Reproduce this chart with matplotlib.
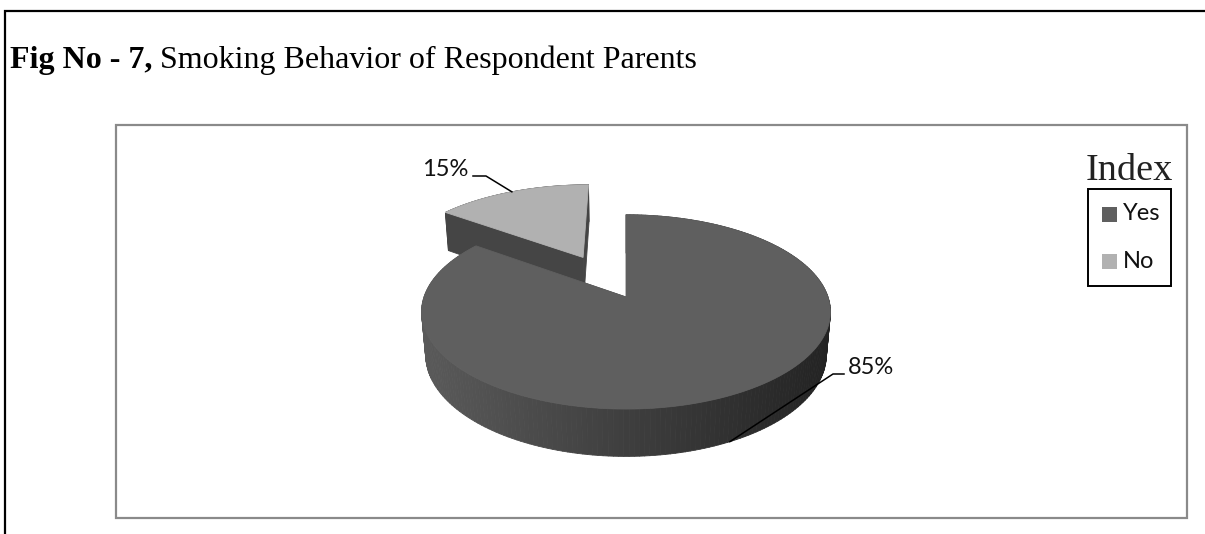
import numpy as np
import matplotlib
matplotlib.use('Agg')
import matplotlib.pyplot as plt
from matplotlib.patches import Polygon, Rectangle
from matplotlib.collections import PolyCollection

# ---------------- data ----------------
categories = ['Yes', 'No']
values = [85, 15]
pct_labels = ['85%', '15%']
top_colors = ['#5f5f5f', '#b1b1b1']
explode = [0.0, 0.5]
title_bold = 'Fig No - 7,'
title_rest = 'Smoking Behavior of Respondent Parents'
legend_title = 'Index'

# ---------------- canvas ----------------
W, H = 1205, 534
fig = plt.figure(figsize=(W / 100, H / 100), dpi=100)
ax = fig.add_axes([0, 0, 1, 1])
ax.set_xlim(0, W)
ax.set_ylim(H, 0)
ax.axis('off')

SERIF = 'Liberation Serif'
SANS = 'Lato'

# outer frame (top + left) and inner chart frame
ax.plot([5, 5, W], [H, 11, 11], color='black', lw=1.6, solid_joinstyle='miter',
        solid_capstyle='butt')
ax.add_patch(Rectangle((116, 125), 1071, 393, fill=False, ec='#8a8a8a', lw=1.6))

# title
TITLE_Y = 68
t1 = ax.text(10, TITLE_Y, title_bold, fontfamily=SERIF, fontweight='bold', fontsize=23,
             va='baseline', ha='left')
fig.canvas.draw()
bb = t1.get_window_extent(fig.canvas.get_renderer())
ax.text(10 + bb.width + 8, TITLE_Y, title_rest, fontfamily=SERIF, fontsize=23,
        va='baseline', ha='left')

# ---------------- 3D pie geometry ----------------
CX, CY = 626, 297
R = 202
TILT = np.radians(28)
DIST = 1162
DEPTH = 49


def proj(x, y, z):
    v = y * np.sin(TILT) + z * np.cos(TILT)
    w = y * np.cos(TILT) - z * np.sin(TILT)
    s = DIST / (DIST + w)
    return CX + x * s, CY - v * s, w


def side_gray(sx):
    f = np.clip((sx - (CX - R)) / (2 * R), 0, 1)
    g = 0x5a - (0x5a - 0x23) * f
    return (g / 255, g / 255, g / 255)


total = float(sum(values))
slices = []
cum = 0.0
for i, v in enumerate(values):
    a0 = 90 - 360 * cum / total
    a1 = 90 - 360 * (cum + v) / total
    cum += v
    mid = np.radians((a0 + a1) / 2)
    ox = explode[i] * R * np.cos(mid)
    oy = explode[i] * R * np.sin(mid)
    depth_key = proj(ox + 0.5 * R * np.cos(mid), oy + 0.5 * R * np.sin(mid), 0)[2]
    slices.append(dict(i=i, a0=a0, a1=a1, mid=mid, ox=ox, oy=oy, key=depth_key))

# draw far slices first
for sl in sorted(slices, key=lambda d: -d['key']):
    i, a0, a1, ox, oy = sl['i'], sl['a0'], sl['a1'], sl['ox'], sl['oy']
    faces = []
    angs = np.radians(np.linspace(a1, a0, 240))
    # outer side
    for k in range(len(angs) - 1):
        p = []
        for (ang, z) in [(angs[k], 0), (angs[k + 1], 0), (angs[k + 1], -DEPTH), (angs[k], -DEPTH)]:
            sx, sy, _ = proj(ox + R * np.cos(ang), oy + R * np.sin(ang), z)
            p.append((sx, sy))
        am = 0.5 * (angs[k] + angs[k + 1])
        mx, my, mw = proj(ox + R * np.cos(am), oy + R * np.sin(am), -DEPTH / 2)
        faces.append((mw, p, side_gray(mx)))
    # radial cut faces
    for ang in np.radians([a0, a1]):
        p = []
        for (r, z) in [(0, 0), (R, 0), (R, -DEPTH), (0, -DEPTH)]:
            sx, sy, _ = proj(ox + r * np.cos(ang), oy + r * np.sin(ang), z)
            p.append((sx, sy))
        mx, my, mw = proj(ox + 0.5 * R * np.cos(ang), oy + 0.5 * R * np.sin(ang), -DEPTH / 2)
        faces.append((mw, p, '#454545'))
    faces.sort(key=lambda f: -f[0])
    pc = PolyCollection([f[1] for f in faces], facecolors=[f[2] for f in faces],
                        edgecolors=[f[2] for f in faces], linewidths=0.6)
    ax.add_collection(pc)
    # top face
    pts = [proj(ox, oy, 0)[:2]]
    for ang in angs:
        pts.append(proj(ox + R * np.cos(ang), oy + R * np.sin(ang), 0)[:2])
    ax.add_patch(Polygon(pts, closed=True, fc=top_colors[i], ec=top_colors[i], lw=0.6))

# ---------------- data labels with leader lines ----------------
label_layout = {0: (848, 367, 'left', 833), 1: (468, 169, 'right', 486)}
for sl in slices:
    i = sl['i']
    mid = sl['mid']
    z = 0 if np.sin(mid) > 0 else -DEPTH
    axp, ayp, _ = proj(sl['ox'] + R * np.cos(mid), sl['oy'] + R * np.sin(mid), z)
    tx, ty, ha, elbow_x = label_layout[i]
    ly = ty + 7
    end_x = tx - 4 if ha == 'left' else tx + 5
    ax.plot([axp, elbow_x, end_x], [ayp, ly, ly], color='black', lw=1.1)
    ax.text(tx, ty, pct_labels[i], fontfamily=SANS, fontsize=17, ha=ha, va='center',
            color='#111111')

# ---------------- legend ----------------
ax.text(1129, 180, legend_title, fontfamily=SERIF, fontsize=27.5, ha='center',
        va='baseline', color='#222222')
ax.add_patch(Rectangle((1088, 189), 83, 97, fill=False, ec='black', lw=1.4))
leg_y = [214, 261]
for i, cat in enumerate(categories):
    ax.add_patch(Rectangle((1102, leg_y[i] - 7.5), 15, 15, fc=top_colors[i], ec='none'))
    ax.text(1123, leg_y[i], cat, fontfamily=SANS, fontsize=17, ha='left', va='center',
            color='#111111')

fig.savefig('out.png', dpi=100)
